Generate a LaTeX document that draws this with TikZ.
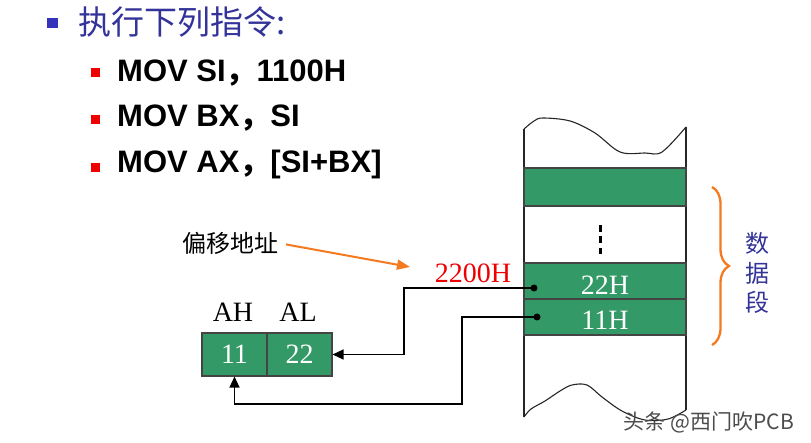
\documentclass[tikz,border=0pt]{standalone}
\usepackage{fontspec}
\setmainfont{Liberation Serif}
\newfontfamily\arialf{Liberation Sans}
\newfontfamily\cjk{Noto Sans CJK SC}
\usetikzlibrary{arrows.meta,decorations.pathreplacing}
\definecolor{tgreen}{HTML}{339966}
\definecolor{tblue}{HTML}{333399}
\definecolor{bblue}{HTML}{3333BB}
\definecolor{tred}{HTML}{EE0000}
\definecolor{torange}{HTML}{F47A20}
\definecolor{bordergray}{HTML}{444444}
\begin{document}
\begin{tikzpicture}[x=1pt,y=-1pt,
  bluebul/.style={fill=bblue,draw=none,minimum size=10.5pt,inner sep=0pt},
  redbul/.style={fill=tred,draw=none,minimum size=9pt,inner sep=0pt},
  instr/.style={anchor=base west,inner sep=0pt,font=\arialf\bfseries\fontsize{31}{31}\selectfont},
  serif/.style={inner sep=0pt,font=\fontsize{28}{28}\selectfont},
  band/.style={draw=bordergray,line width=1.1pt,fill=tgreen,minimum width=162pt,inner sep=0pt},
  cell/.style={draw=bordergray,line width=1.1pt,fill=tgreen,minimum width=65pt,minimum height=43pt,inner sep=0pt,text=white,font=\fontsize{28}{28}\selectfont},
  dotn/.style={circle,fill=black,minimum size=7pt,inner sep=0pt},
  conn/.style={line width=1.4pt,-{Triangle[length=11pt,width=10pt]}},
  colline/.style={line width=1.1pt,black!85}
]
\useasboundingbox (0,0) rectangle (811,443);
% title
\node[bluebul] (b0) at (52.5,23) {};
\node[anchor=west,inner sep=0pt,text=tblue,font=\cjk\fontsize{33}{33}\selectfont] (title) at (78,22) {执行下列指令:};
% instructions
\node[redbul] (r1) at (95.5,72.5) {};
\node[redbul] (r2) at (95.5,119.5) {};
\node[redbul] (r3) at (95.5,167.5) {};
\node[instr] (i1) at (117,82) {MOV SI{\cjk ，}1100H};
\node[instr] (i2) at (117,127) {MOV BX{\cjk ，}SI};
\node[instr] (i3) at (117,173) {MOV AX{\cjk ，}[SI+BX]};
% memory column
\draw[colline] plot[smooth,tension=0.55] coordinates {(524,129) (534,121) (543,118) (570,121) (595,133) (620,152) (645,153) (662,152) (686,127)};
\draw[colline] plot[smooth,tension=0.55] coordinates {(524,417) (531,409) (545,401) (560,391) (572,385) (587,385) (602,397) (622,411) (645,420) (668,419) (686,410)};
\draw[colline] (524,129) -- (524,417);
\draw[colline] (686,127) -- (686,410);
\node[band,minimum height=38pt] (top) at (605,187) {};
\node[band,minimum height=36pt] (b22) at (605,281) {};
\node[band,minimum height=36pt] (b11) at (605,317) {};
\node[serif,text=white] (t22) at (605,285) {22H};
\node[serif,text=white] (t11) at (605,320) {11H};
\draw[line width=3pt,dash pattern=on 7pt off 4.5pt] (600,225) -- (600,254);
% brace
\draw[torange,line width=2.3pt,decorate,decoration={brace,amplitude=17pt}] (712,187) -- (712,345);
\node[inner sep=0pt,text=tblue,font=\cjk\fontsize{24}{24}\selectfont] (sj) at (757,243) {数};
\node[inner sep=0pt,text=tblue,font=\cjk\fontsize{24}{24}\selectfont] (sju) at (757,273) {据};
\node[inner sep=0pt,text=tblue,font=\cjk\fontsize{24}{24}\selectfont] (sd) at (757,302) {段};
% register
\node[cell] (ah) at (234.5,354.5) {11};
\node[cell] (al) at (299.5,354.5) {22};
\node[serif] (lah) at (233,312) {AH};
\node[serif] (lal) at (298,312) {AL};
% labels
\node[serif,text=tred] (addr) at (473,273) {2200H};
\node[inner sep=0pt,font=\cjk\fontsize{24}{24}\selectfont] (py) at (230,243) {偏移地址};
\coordinate (ot) at (410,267);
\draw[torange,line width=2pt,-{Triangle[length=13pt,width=10pt]},shorten <=8pt] (py.east) -- (ot);
% dots and connectors
\node[dotn] (d1) at (534,288) {};
\node[dotn] (d2) at (537,317) {};
\draw[conn] (d1.center) -- (404,288) |- (al.east);
\draw[conn] (d2.center) -- (462,317) -- (462,404) -| (ah.south);
% watermark
\node[inner sep=0pt,text=black!70,font=\cjk\fontsize{21}{21}\selectfont] (wm) at (709,422) {头条 @西门吹PCB};
\end{tikzpicture}
\end{document}
